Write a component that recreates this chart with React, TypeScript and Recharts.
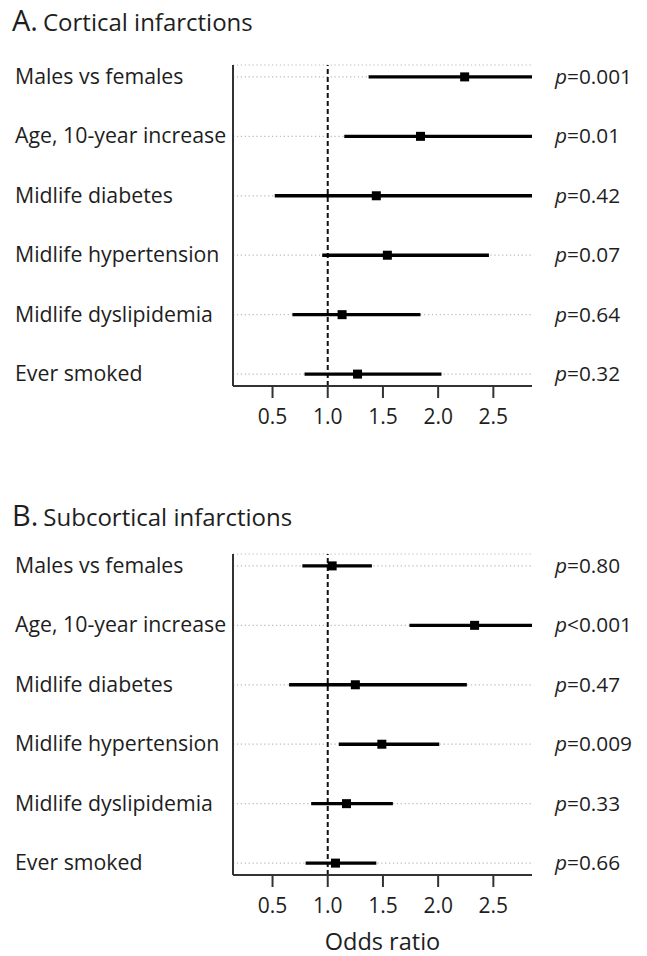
import React from 'react';
import {
  ScatterChart,
  Scatter,
  XAxis,
  YAxis,
  CartesianGrid,
  ReferenceLine,
} from 'recharts';

// ---------- data ----------
const rowLabels = [
  'Males vs females',
  'Age, 10-year increase',
  'Midlife diabetes',
  'Midlife hypertension',
  'Midlife dyslipidemia',
  'Ever smoked',
];
const rowIndex = [1, 2, 3, 4, 5, 6];
const oddsTicks = [0.5, 1.0, 1.5, 2.0, 2.5];

// A. Cortical infarctions
const corticalOR = [2.24, 1.84, 1.44, 1.54, 1.13, 1.27];
const corticalLo = [1.37, 1.15, 0.52, 0.95, 0.68, 0.79];
const corticalHi = [2.85, 2.85, 2.85, 2.46, 1.84, 2.03]; // first three run past the axis end
const corticalP = ['=0.001', '=0.01', '=0.42', '=0.07', '=0.64', '=0.32'];

// B. Subcortical infarctions
const subcorticalOR = [1.04, 2.33, 1.25, 1.49, 1.17, 1.07];
const subcorticalLo = [0.77, 1.74, 0.65, 1.1, 0.85, 0.8];
const subcorticalHi = [1.4, 2.85, 2.26, 2.01, 1.59, 1.44]; // age runs past the axis end
const subcorticalP = ['=0.80', '<0.001', '=0.47', '=0.009', '=0.33', '=0.66'];

const X_DOMAIN: [number, number] = [0.142, 2.85];
const Y_DOMAIN: [number, number] = [0.8, 6.2];

const FONT = '"Open Sans", "Noto Sans", sans-serif';
const INK = '#1e1e1e';
const AXIS = '#333333';

const SquareShape = (props: any) => {
  const { cx, cy } = props;
  if (cx == null || cy == null) return <g />;
  const s = 9;
  return <rect x={cx - s / 2} y={cy - s / 2} width={s} height={s} fill="#000" />;
};

const EmptyShape = () => <g />;

const LeftTick = (props: any) => {
  const { y, payload } = props;
  const label = rowLabels[payload.value - 1] ?? '';
  return (
    <text x={15} y={y} dy={7} fill={INK} fontSize={21.3} fontFamily={FONT} textAnchor="start">
      {label}
    </text>
  );
};

const makeRightTick = (pvals: string[]) => (props: any) => {
  const { x, y, payload } = props;
  const v = pvals[payload.value - 1] ?? '';
  return (
    <text x={x} y={y} dy={7} fill={INK} fontSize={20.8} fontFamily={FONT} textAnchor="start">
      <tspan fontStyle="italic">p</tspan>
      <tspan>{v}</tspan>
    </text>
  );
};

type ForestProps = {
  or: number[];
  lo: number[];
  hi: number[];
  p: string[];
  showXLabel: boolean;
};

const Forest = ({ or, lo, hi, p, showXLabel }: ForestProps) => {
  const data = rowIndex.map((r, i) => ({ row: r, or: or[i], lo: lo[i], hi: hi[i] }));
  const RightTick = makeRightTick(p);
  return (
    <ScatterChart
      width={647}
      height={showXLabel ? 476 : 446}
      margin={{ top: 65, right: 0, bottom: 0, left: 0 }}
    >
      <CartesianGrid
        yAxisId="left"
        vertical={false}
        horizontal={true}
        stroke="#bdbdbd"
        strokeDasharray="1.3 2.6"
        strokeWidth={1.2}
      />
      <XAxis
        type="number"
        dataKey="or"
        domain={X_DOMAIN}
        allowDataOverflow
        ticks={oddsTicks}
        tickFormatter={(v: number) => v.toFixed(1)}
        axisLine={{ stroke: AXIS, strokeWidth: 2 }}
        tickLine={{ stroke: AXIS, strokeWidth: 2 }}
        tickSize={12}
        tickMargin={11}
        tick={{ fill: INK, fontSize: 21, fontFamily: FONT }}
        height={showXLabel ? 90 : 60}
        label={
          showXLabel
            ? {
                value: 'Odds ratio',
                position: 'insideBottom',
                offset: 15,
                fill: INK,
                fontSize: 23.5,
                fontFamily: FONT,
              }
            : undefined
        }
      />
      <YAxis
        yAxisId="left"
        type="number"
        dataKey="row"
        domain={Y_DOMAIN}
        allowDataOverflow
        reversed
        ticks={rowIndex}
        width={233}
        axisLine={{ stroke: AXIS, strokeWidth: 2 }}
        tickLine={false}
        tick={<LeftTick />}
      />
      <YAxis
        yAxisId="right"
        orientation="right"
        type="number"
        dataKey="row"
        domain={Y_DOMAIN}
        allowDataOverflow
        reversed
        ticks={rowIndex}
        width={115}
        axisLine={false}
        tickLine={false}
        tickSize={0}
        tickMargin={23}
        tick={<RightTick />}
      />
      <ReferenceLine
        yAxisId="left"
        x={1}
        stroke="#111"
        strokeWidth={2}
        strokeDasharray="5 3"
      />
      {data.map((d) => (
        <ReferenceLine
          key={`ci-${d.row}`}
          yAxisId="left"
          ifOverflow="visible"
          segment={[
            { x: d.lo, y: d.row },
            { x: d.hi, y: d.row },
          ]}
          stroke="#000"
          strokeWidth={3.4}
        />
      ))}
      <Scatter
        yAxisId="left"
        data={data}
        shape={SquareShape}
        isAnimationActive={false}
      />
      <Scatter
        yAxisId="right"
        data={data}
        shape={EmptyShape}
        isAnimationActive={false}
      />
    </ScatterChart>
  );
};

const Title = ({ letter, text, baseline }: { letter: string; text: string; baseline: number }) => (
  <svg
    width={647}
    height={baseline + 12}
    style={{ position: 'absolute', left: 0, top: 0, pointerEvents: 'none' }}
  >
    <text x={12} y={baseline} fill={INK} fontFamily={FONT}>
      <tspan fontSize={29}>{letter}</tspan>
      <tspan fontSize={24} dx={5}>
        {text}
      </tspan>
    </text>
  </svg>
);

export default function App() {
  return (
    <div
      style={{
        position: 'absolute',
        left: 0,
        top: 0,
        width: 647,
        height: 956,
        background: '#fff',
        overflow: 'hidden',
      }}
    >
      <div style={{ position: 'absolute', left: 0, top: 0 }}>
        <Forest or={corticalOR} lo={corticalLo} hi={corticalHi} p={corticalP} showXLabel={false} />
      </div>
      <div style={{ position: 'absolute', left: 0, top: 489 }}>
        <Forest
          or={subcorticalOR}
          lo={subcorticalLo}
          hi={subcorticalHi}
          p={subcorticalP}
          showXLabel={true}
        />
      </div>
      <div style={{ position: 'absolute', left: 0, top: 0 }}>
        <Title letter="A." text="Cortical infarctions" baseline={31} />
      </div>
      <div style={{ position: 'absolute', left: 0, top: 495 }}>
        <Title letter="B." text="Subcortical infarctions" baseline={31} />
      </div>
    </div>
  );
}
